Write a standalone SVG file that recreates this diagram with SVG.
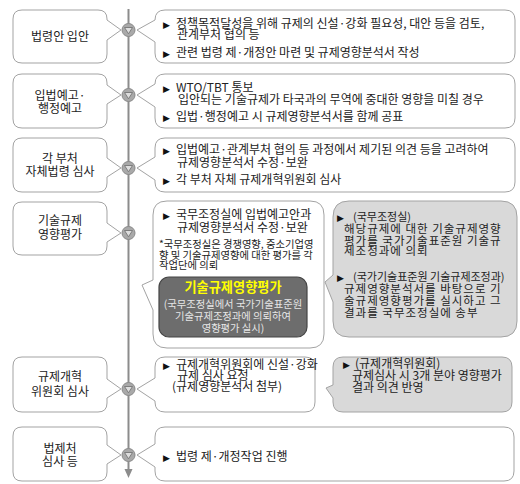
<svg xmlns="http://www.w3.org/2000/svg" xmlns:xlink="http://www.w3.org/1999/xlink" width="520" height="484" viewBox="0 0 520 484">
<style>
.box{fill:#fff;stroke:#a3a3a3;stroke-width:1}
.gbox{fill:#d9d9d9;stroke:#a3a3a3;stroke-width:1}
.t{font-family:"Noto Sans CJK KR","Liberation Sans",sans-serif;font-size:12px;fill:#222}
.c{text-anchor:middle}
.b{font-family:"DejaVu Sans",sans-serif;font-size:9px;fill:#111}
.s{font-size:10.3px}
.g{font-size:11.5px;letter-spacing:1px}
.p{font-size:11px}
.y{font-family:"Noto Sans CJK KR",sans-serif;font-size:13.2px;font-weight:bold;fill:#ffff00;text-anchor:middle}
.w{font-family:"Noto Sans CJK KR",sans-serif;font-size:10.3px;fill:#e6e6e6;text-anchor:middle}
</style>
<defs>
<g id="dot">
<circle r="6.5" fill="#a9a9a9" stroke="#8a8a8a" stroke-width="1"/>
<path d="M-4,-2.5 L4,-2.5 L0,3.8 Z" fill="#dedede" stroke="#767676" stroke-width="0.9"/>
</g>
</defs>

<g id="connectors">
<line x1="128.5" y1="9" x2="128.5" y2="470" stroke="#8c8c8c" stroke-width="2"/>
<polygon points="124.5,469 132.5,469 128.5,478" fill="#8c8c8c"/>
<use xlink:href="#dot" x="128.5" y="30"/>
<use xlink:href="#dot" x="128.5" y="95"/>
<use xlink:href="#dot" x="128.5" y="168"/>
<use xlink:href="#dot" x="128.5" y="233"/>
<use xlink:href="#dot" x="128.5" y="389"/>
<use xlink:href="#dot" x="128.5" y="455"/>
</g>

<g id="step1">
<path class="box" d="M22,10 H98 Q107,10 107,19 V20 L121,30 L107,40 V54 Q107,63 98,63 H22 Q13,63 13,54 V19 Q13,10 22,10 Z"/>
<text class="t c" x="60" y="41">법령안 입안</text>
</g>
<g id="step1-detail">
<path class="box" d="M165,10 H505 Q515,10 515,20 V53 Q515,63 505,63 H165 Q155,63 155,53 V42 L137,30 L155,20 Q155,10 165,10 Z"/>
<text class="t"><tspan class="b" x="163" y="27.5">▶</tspan><tspan x="176" y="27.5">정책목적달성을 위해 규제의 신설·강화 필요성, 대안 등을 검토,</tspan></text>
<text class="t" x="177" y="39">관계부처 협의 등</text>
<text class="t"><tspan class="b" x="163" y="57">▶</tspan><tspan x="176" y="57">관련 법령 제·개정안 마련 및 규제영향분석서 작성</tspan></text>
</g>

<g id="step2">
<path class="box" d="M22,74 H98 Q107,74 107,83 V85 L121,95 L107,104 V119 Q107,128 98,128 H22 Q13,128 13,119 V83 Q13,74 22,74 Z"/>
<text class="t c" x="60" y="100">입법예고·</text>
<text class="t c" x="60" y="113">행정예고</text>
</g>
<g id="step2-detail">
<path class="box" d="M165,74 H505 Q515,74 515,84 V118 Q515,128 505,128 H165 Q155,128 155,118 V107 L137,95 L155,84 Q155,74 165,74 Z"/>
<text class="t"><tspan class="b" x="163" y="91.5">▶</tspan><tspan x="176" y="91.5">WTO/TBT 통보</tspan></text>
<text class="t" x="178" y="104">입안되는 기술규제가 타국과의 무역에 중대한 영향을 미칠 경우</text>
<text class="t"><tspan class="b" x="163" y="121">▶</tspan><tspan x="176" y="121">입법·행정예고 시 규제영향분석서를 함께 공표</tspan></text>
</g>

<g id="step3">
<path class="box" d="M22,138 H98 Q107,138 107,147 V158 L121,168 L107,177 V183 Q107,192 98,192 H22 Q13,192 13,183 V147 Q13,138 22,138 Z"/>
<text class="t c" x="60" y="163">각 부처</text>
<text class="t c" x="60" y="176">자체법령 심사</text>
</g>
<g id="step3-detail">
<path class="box" d="M165,138 H505 Q515,138 515,148 V182 Q515,192 505,192 H165 Q155,192 155,182 V180 L137,168 L155,157 V148 Q155,138 165,138 Z"/>
<text class="t"><tspan class="b" x="163" y="154">▶</tspan><tspan x="176" y="154">입법예고·관계부처 협의 등 과정에서 제기된 의견 등을 고려하여</tspan></text>
<text class="t" x="177" y="167">규제영향분석서 수정·보완</text>
<text class="t"><tspan class="b" x="163" y="184">▶</tspan><tspan x="176" y="184">각 부처 자체 규제개혁위원회 심사</tspan></text>
</g>

<g id="step4">
<path class="box" d="M22,202 H98 Q107,202 107,211 V223 L121,233 L107,242 V246 Q107,255 98,255 H22 Q13,255 13,246 V211 Q13,202 22,202 Z"/>
<text class="t c" x="60" y="225">기술규제</text>
<text class="t c" x="60" y="239">영향평가</text>
</g>
<g id="step4-detail">
<path class="box" d="M167,201 H310 Q324,201 324,215 V334 Q324,348 310,348 H167 Q153,348 153,334 V310 L142,285 L153,280 V215 Q153,201 167,201 Z"/>
<text class="t"><tspan class="b" x="163" y="219">▶</tspan><tspan x="176" y="219">국무조정실에 입법예고안과</tspan></text>
<text class="t" x="177" y="232">규제영향분석서 수정·보완</text>
<text class="t s" x="159" y="248">*국무조정실은 경쟁영향, 중소기업영</text>
<text class="t s" x="159" y="259">향 및 기술규제영향에 대한 평가를 각</text>
<text class="t s" x="159" y="269">작업단에 의뢰</text>
<rect x="159" y="277" width="148" height="60" rx="10" fill="#6d6d6d" stroke="#454545" stroke-width="1.2"/>
<text class="y" x="233" y="292">기술규제영향평가</text>
<text class="w" x="233" y="308">(국무조정실에서 국가기술표준원</text>
<text class="w" x="233" y="320">기술규제조정과에 의뢰하여</text>
<text class="w" x="233" y="332">영향평가 실시)</text>
</g>
<g id="step4-agency">
<path class="gbox" d="M349,201 H501 Q517,201 517,217 V321 Q517,337 501,337 H349 Q333,337 333,321 V302 L325,282 L333,275 V217 Q333,201 349,201 Z"/>
<text class="t"><tspan class="b" x="337" y="221">▶</tspan><tspan class="p" x="353" y="221">(국무조정실)</tspan></text>
<text class="t g" x="344" y="232.5">해당규제에 대한 기술규제영향</text>
<text class="t g" x="344" y="244.5">평가를 국가기술표준원 기술규</text>
<text class="t g" x="344" y="255">제조정과에 의뢰</text>
<text class="t"><tspan class="b" x="337" y="281">▶</tspan><tspan class="p" x="353" y="281">(국가기술표준원 기술규제조정과)</tspan></text>
<text class="t g" x="344" y="293">규제영향분석서를 바탕으로 기</text>
<text class="t g" x="344" y="305">술규제영향평가를 실시하고 그</text>
<text class="t g" x="344" y="316.5">결과를 국무조정실에 송부</text>
</g>

<g id="step5">
<path class="box" d="M22,357 H98 Q107,357 107,366 V379 L121,389 L107,398 V403 Q107,412 98,412 H22 Q13,412 13,403 V366 Q13,357 22,357 Z"/>
<text class="t c" x="60" y="381">규제개혁</text>
<text class="t c" x="60" y="396">위원회 심사</text>
</g>
<g id="step5-detail">
<path class="box" d="M165,357 H305 Q315,357 315,367 V402 Q315,412 305,412 H165 Q155,412 155,402 V401 L137,389 L155,378 V367 Q155,357 165,357 Z"/>
<text class="t"><tspan class="b" x="163" y="369">▶</tspan><tspan x="176" y="369">규제개혁위원회에 신설·강화</tspan></text>
<text class="t" x="177" y="380">규제 심사 요청</text>
<text class="t" x="172" y="391">(규제영향분석서 첨부)</text>
</g>
<g id="step5-agency">
<path class="gbox" d="M343,357 H502 Q512,357 512,367 V402 Q512,412 502,412 H343 Q333,412 333,402 V398 L326,388 L333,385 V367 Q333,357 343,357 Z"/>
<text class="t"><tspan class="b" x="343" y="368">▶</tspan><tspan x="355" y="368">(규제개혁위원회)</tspan></text>
<text class="t" x="352" y="380">규제심사 시 3개 분야 영향평가</text>
<text class="t" x="352" y="391.5">결과 의견 반영</text>
</g>

<g id="step6">
<path class="box" d="M22,427 H98 Q107,427 107,436 V445 L121,455 L107,464 V472 Q107,481 98,481 H22 Q13,481 13,472 V436 Q13,427 22,427 Z"/>
<text class="t c" x="60" y="452.5">법제처</text>
<text class="t c" x="60" y="466">심사 등</text>
</g>
<g id="step6-detail">
<path class="box" d="M165,427 H504 Q514,427 514,437 V471 Q514,481 504,481 H165 Q155,481 155,471 V467 L137,455 L155,444 V437 Q155,427 165,427 Z"/>
<text class="t"><tspan class="b" x="163" y="461">▶</tspan><tspan x="176" y="461">법령 제·개정작업 진행</tspan></text>
</g>
</svg>
